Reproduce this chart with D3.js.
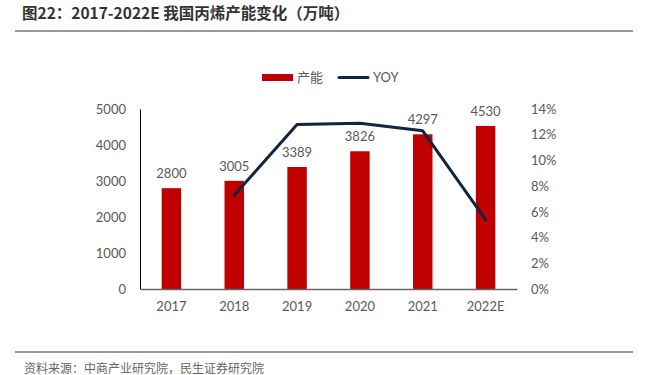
<!DOCTYPE html>
<html>
<head>
<meta charset="utf-8">
<script src="https://cdn.jsdelivr.net/npm/d3@7"></script>
<style>
  body { margin: 0; background: #fff; }
  svg { display: block; }
  .tick text { font-family: Lato, "Noto Sans CJK SC", sans-serif; }
</style>
</head>
<body>
<svg id="chart" width="665" height="375"></svg>
<script>
var years = ['2017', '2018', '2019', '2020', '2021', '2022E'];
var capacity = [2800, 3005, 3389, 3826, 4297, 4530];
var yoyYears = ['2018', '2019', '2020', '2021', '2022E'];
var yoy = [7.3, 12.8, 12.9, 12.3, 5.4];
var leftTicks = [0, 1000, 2000, 3000, 4000, 5000];
var rightTicks = [0, 2, 4, 6, 8, 10, 12, 14];

var svg = d3.select('#chart');
var grey = '#595959';
var plotLeft = 140, plotRight = 517, plotTop = 109, plotBottom = 289;

// header and footer
svg.append('text')
  .attr('x', 22).attr('y', 19)
  .attr('font-family', '"Noto Sans CJK SC", sans-serif')
  .attr('font-weight', 'bold')
  .attr('font-size', 15.5)
  .attr('fill', '#333')
  .text('图22：2017-2022E 我国丙烯产能变化（万吨）');

svg.append('line')
  .attr('x1', 15).attr('x2', 633).attr('y1', 31).attr('y2', 31)
  .attr('stroke', '#777').attr('stroke-width', 1.5);

svg.append('line')
  .attr('x1', 15).attr('x2', 633).attr('y1', 352).attr('y2', 352)
  .attr('stroke', '#777').attr('stroke-width', 1.5);

svg.append('text')
  .attr('x', 24).attr('y', 373)
  .attr('font-family', '"Noto Sans CJK SC", sans-serif')
  .attr('font-size', 12)
  .attr('fill', '#666')
  .text('资料来源：中商产业研究院，民生证券研究院');

var x = d3.scaleBand().domain(years).range([plotLeft, plotRight]).paddingInner(0.69).paddingOuter(0.345);
var y = d3.scaleLinear().domain([0, 5000]).range([plotBottom, plotTop]);
var y2 = d3.scaleLinear().domain([0, 14]).range([plotBottom, plotTop]);

// bars
svg.append('g').selectAll('rect')
  .data(capacity)
  .enter().append('rect')
  .attr('x', function(d, i) { return x(years[i]); })
  .attr('width', x.bandwidth())
  .attr('y', function(d) { return y(d); })
  .attr('height', function(d) { return plotBottom - y(d); })
  .attr('fill', '#c00000');

svg.append('g').selectAll('text')
  .data(capacity)
  .enter().append('text')
  .attr('x', function(d, i) { return x(years[i]) + x.bandwidth() / 2; })
  .attr('y', function(d) { return y(d) - 10; })
  .attr('text-anchor', 'middle')
  .attr('font-family', 'Lato, sans-serif')
  .attr('font-size', 13)
  .attr('fill', grey)
  .text(function(d) { return d; });

// axes
var yAxis = svg.append('g')
  .attr('transform', 'translate(' + plotLeft + ',0)')
  .call(d3.axisLeft(y).tickValues(leftTicks).tickSize(0).tickPadding(14).tickFormat(d3.format('d')));
yAxis.select('.domain').attr('stroke', '#000').attr('stroke-width', 1);
yAxis.selectAll('text').attr('font-size', 13).attr('fill', grey);

var y2Axis = svg.append('g')
  .attr('transform', 'translate(' + (plotRight + 14) + ',0)')
  .call(d3.axisRight(y2).tickValues(rightTicks).tickSize(0).tickPadding(0)
    .tickFormat(function(d) { return d + '%'; }));
y2Axis.select('.domain').remove();
y2Axis.selectAll('text').attr('font-size', 13).attr('fill', grey);

var xAxis = svg.append('g')
  .attr('transform', 'translate(0,' + plotBottom + ')')
  .call(d3.axisBottom(x).tickSize(0).tickPadding(13));
xAxis.select('.domain').attr('stroke', '#666').attr('stroke-width', 1.5);
xAxis.selectAll('text').attr('font-size', 13).attr('fill', grey);

// YOY line
var line = d3.line()
  .x(function(d, i) { return x(yoyYears[i]) + x.bandwidth() / 2; })
  .y(function(d) { return y2(d); });

svg.append('path')
  .datum(yoy)
  .attr('d', line)
  .attr('fill', 'none')
  .attr('stroke', '#10263f')
  .attr('stroke-width', 3)
  .attr('stroke-linecap', 'round')
  .attr('stroke-linejoin', 'round');

// legend
var legend = svg.append('g');
legend.append('rect')
  .attr('x', 262).attr('y', 74).attr('width', 31).attr('height', 7)
  .attr('fill', '#c00000');
legend.append('text')
  .attr('x', 297).attr('y', 82)
  .attr('font-family', '"Noto Sans CJK SC", sans-serif')
  .attr('font-size', 13).attr('fill', grey)
  .text('产能');
legend.append('line')
  .attr('x1', 339).attr('x2', 368).attr('y1', 77.5).attr('y2', 77.5)
  .attr('stroke', '#10263f').attr('stroke-width', 3).attr('stroke-linecap', 'round');
legend.append('text')
  .attr('x', 373).attr('y', 82)
  .attr('font-family', 'Lato, sans-serif')
  .attr('font-size', 13).attr('fill', grey)
  .text('YOY');
</script>
</body>
</html>
